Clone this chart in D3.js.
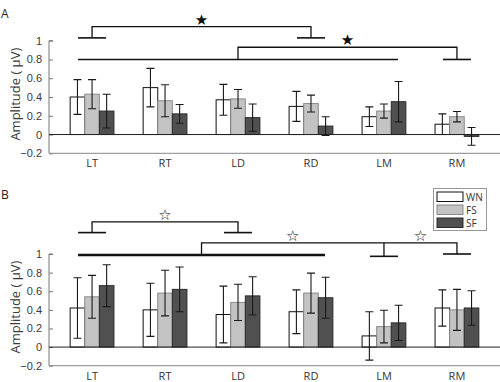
<!DOCTYPE html>
<html>
<head>
<meta charset="utf-8">
<script src="https://cdn.jsdelivr.net/npm/d3@7"></script>
<style>
  body { margin: 0; background: #fff; }
  svg { display: block; font-family: "Open Sans", "DejaVu Sans", sans-serif; }
</style>
</head>
<body>
<svg id="chart" width="500" height="382"></svg>
<script>
const categories = ["LT", "RT", "LD", "RD", "LM", "RM"];
const series = ["WN", "FS", "SF"];
const yTicks = [-0.2, 0, 0.2, 0.4, 0.6, 0.8, 1];

// panel A means and error half-widths
const meanA_WN = [0.40, 0.50, 0.37, 0.30, 0.19, 0.11];
const meanA_FS = [0.43, 0.36, 0.38, 0.33, 0.25, 0.19];
const meanA_SF = [0.25, 0.22, 0.18, 0.09, 0.35, -0.02];
const errA_WN = [0.185, 0.205, 0.165, 0.16, 0.105, 0.11];
const errA_FS = [0.155, 0.17, 0.10, 0.09, 0.075, 0.055];
const errA_SF = [0.18, 0.10, 0.145, 0.10, 0.215, 0.095];

// panel B
const meanB_WN = [0.42, 0.40, 0.35, 0.38, 0.12, 0.42];
const meanB_FS = [0.54, 0.58, 0.48, 0.58, 0.22, 0.40];
const meanB_SF = [0.66, 0.62, 0.55, 0.53, 0.26, 0.42];
const errB_WN = [0.325, 0.285, 0.305, 0.235, 0.26, 0.195];
const errB_FS = [0.23, 0.245, 0.195, 0.215, 0.175, 0.22];
const errB_SF = [0.225, 0.24, 0.205, 0.22, 0.19, 0.185];

// significance brackets: groups of categories joined at "top", star symbol
const bracketsA = [
  { groups: [["LT"], ["RD"]], bases: [1.03, 1.03], top: 1.15, star: "★", wide: 1.6 },
  { groups: [["LT", "RT", "LD", "RD", "LM"], ["RM"]], bases: [0.80, 0.80], top: 0.93, star: "★", wide: 1.6 }
];
const bracketsB = [
  { groups: [["LT"], ["LD"]], bases: [1.23, 1.23], top: 1.345, star: "☆", wide: 1.6 },
  { groups: [["LT", "RT", "LD", "RD"], ["LM"], ["RM"]], bases: [0.99, 0.975, 1.0], top: 1.12, star: "☆", wide: 2.4 }
];

const colors = { WN: "#ffffff", FS: "#c3c3c3", SF: "#505050" };
const strokes = { WN: "#111", FS: "#8a8a8a", SF: "#2a2a2a" };

const svg = d3.select("#chart");

const x = d3.scaleBand()
  .domain(categories)
  .range([49, 500])
  .paddingInner(0.4)
  .paddingOuter(0.29);

const xs = d3.scaleBand().domain(series).range([0, x.bandwidth()]);

function drawPanel(label, labelY, top, bottom, means, errs, brackets) {
  const y = d3.scaleLinear().domain([-0.2, 1]).range([bottom, top]);
  const g = svg.append("g");

  g.append("text")
    .attr("x", 1).attr("y", labelY)
    .attr("font-size", 12).attr("fill", "#222")
    .text(label);

  // y axis
  const yAxis = g.append("g")
    .attr("transform", "translate(49,0)")
    .call(d3.axisRight(y).tickValues(yTicks).tickSize(4).tickFormat(d3.format("~g")));
  yAxis.select(".domain").attr("stroke", "#777").attr("d", `M4,${y(1)}H0V${y(-0.2)}`);
  yAxis.selectAll(".tick line").attr("stroke", "#777");
  yAxis.selectAll(".tick text")
    .attr("x", -7).attr("text-anchor", "end")
    .attr("font-size", 11).attr("fill", "#3a3a3a");

  g.append("text")
    .attr("transform", `translate(20,${y(0.43)}) rotate(-90)`)
    .attr("text-anchor", "middle")
    .attr("font-size", 13).attr("fill", "#3a3a3a")
    .text("Amplitude ( μV)");

  // bottom axis line and zero line
  g.append("line")
    .attr("x1", 49).attr("x2", 500).attr("y1", y(-0.2)).attr("y2", y(-0.2))
    .attr("stroke", "#888");

  // bars
  series.forEach(s => {
    const bars = g.append("g");
    categories.forEach((c, i) => {
      const v = means[s][i];
      bars.append("rect")
        .attr("x", x(c) + xs(s))
        .attr("y", Math.min(y(v), y(0)))
        .attr("width", xs.bandwidth())
        .attr("height", Math.abs(y(v) - y(0)))
        .attr("fill", colors[s])
        .attr("stroke", strokes[s]);
    });
  });

  g.append("line")
    .attr("x1", 49).attr("x2", 500).attr("y1", y(0)).attr("y2", y(0))
    .attr("stroke", "#222");

  // error bars
  series.forEach(s => {
    categories.forEach((c, i) => {
      const cx = x(c) + xs(s) + xs.bandwidth() / 2;
      const lo = y(means[s][i] - errs[s][i]);
      const hi = y(means[s][i] + errs[s][i]);
      g.append("path")
        .attr("d", `M${cx},${lo}V${hi}M${cx - 4},${lo}H${cx + 4}M${cx - 4},${hi}H${cx + 4}`)
        .attr("fill", "none")
        .attr("stroke", "#1a1a1a")
        .attr("stroke-width", 1.1);
    });
  });

  // category labels
  categories.forEach(c => {
    g.append("text")
      .attr("x", x(c) + x.bandwidth() / 2)
      .attr("y", y(-0.2) + 14)
      .attr("text-anchor", "middle")
      .attr("font-size", 11).attr("fill", "#333")
      .text(c);
  });

  // significance brackets
  const bw = x.bandwidth();
  brackets.forEach(b => {
    const drops = b.groups.map((grp, k) => {
      const x0 = x(grp[0]) + bw * 0.18;
      const x1 = x(grp[grp.length - 1]) + bw * 0.82;
      g.append("line")
        .attr("x1", x0).attr("x2", x1)
        .attr("y1", y(b.bases[k])).attr("y2", y(b.bases[k]))
        .attr("stroke", "#111").attr("stroke-width", grp.length > 1 ? b.wide : 1.6);
      return { cx: (x0 + x1) / 2, base: y(b.bases[k]) };
    });
    const yt = y(b.top);
    let d = `M${drops[0].cx},${drops[0].base}V${yt}H${drops[drops.length - 1].cx}V${drops[drops.length - 1].base}`;
    drops.slice(1, -1).forEach(p => { d += `M${p.cx},${yt}V${p.base}`; });
    g.append("path")
      .attr("d", d).attr("fill", "none")
      .attr("stroke", "#111").attr("stroke-width", 1.3);
    for (let k = 0; k < drops.length - 1; k++) {
      g.append("text")
        .attr("x", (drops[k].cx + drops[k + 1].cx) / 2)
        .attr("y", yt - 2)
        .attr("text-anchor", "middle")
        .attr("font-family", "DejaVu Sans")
        .attr("font-size", 15).attr("fill", "#111")
        .text(b.star);
    }
  });
  return y;
}

const byName = (a, b, c) => ({ WN: a, FS: b, SF: c });

drawPanel("A", 18, 40.7, 153.3,
  byName(meanA_WN, meanA_FS, meanA_SF),
  byName(errA_WN, errA_FS, errA_SF), bracketsA);

drawPanel("B", 199, 254, 365.7,
  byName(meanB_WN, meanB_FS, meanB_SF),
  byName(errB_WN, errB_FS, errB_SF), bracketsB);

// legend
const legend = svg.append("g").attr("transform", "translate(433.5,188.5)");
legend.append("rect")
  .attr("width", 53).attr("height", 42)
  .attr("fill", "#fff").attr("stroke", "#999");
series.forEach((s, i) => {
  legend.append("rect")
    .attr("x", 3.5).attr("y", 3.5 + i * 13)
    .attr("width", 26).attr("height", 9.5)
    .attr("fill", colors[s]).attr("stroke", strokes[s]);
  legend.append("text")
    .attr("x", 32.5).attr("y", 12.5 + i * 13)
    .attr("font-size", 10).attr("fill", "#333")
    .text(s);
});
</script>
</body>
</html>
